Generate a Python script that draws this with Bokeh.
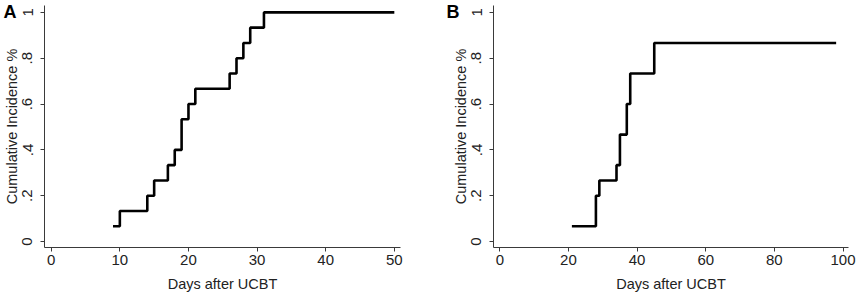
from bokeh.plotting import figure
from bokeh.layouts import row
from bokeh.models import Range1d, FixedTicker, Title
from bokeh.embed import file_html
from bokeh.resources import INLINE

# Panel A data
days_a = [9, 10, 14, 15, 17, 18, 19, 20, 21, 26, 27, 28, 29, 31, 50]
inc_a = [1/15, 2/15, 3/15, 4/15, 5/15, 6/15, 8/15, 9/15, 10/15, 11/15, 12/15, 13/15, 14/15, 1.0, 1.0]

# Panel B data
days_b = [21, 28, 29, 34, 35, 37, 38, 45, 98]
inc_b = [1/15, 3/15, 4/15, 5/15, 7/15, 9/15, 11/15, 13/15, 13/15]

y_ticks = [0, 0.2, 0.4, 0.6, 0.8, 1.0]
y_tick_labels = ["0", ".2", ".4", ".6", ".8", "1"]
x_ticks_a = [0, 10, 20, 30, 40, 50]
x_ticks_b = [0, 20, 40, 60, 80, 100]

FONT = "Liberation Sans"
AXIS_COL = "#3a3a3a"
TEXT_COL = "#222222"


def make_panel(days, inc, xticks, xr, width, left, right, letter):
    p = figure(width=width, height=294, output_backend="svg", toolbar_location=None,
               x_range=Range1d(*xr), y_range=Range1d(-0.026, 1.03),
               min_border_left=left, min_border_right=right,
               min_border_top=5, min_border_bottom=46)
    p.outline_line_color = None
    p.grid.visible = False
    p.step(days, inc, mode="after", line_width=2.6, line_color="black")

    for ax in (p.xaxis[0], p.yaxis[0]):
        ax.axis_line_color = AXIS_COL
        ax.axis_line_width = 1
        ax.major_tick_line_color = AXIS_COL
        ax.major_tick_out = 4
        ax.major_tick_in = 0
        ax.minor_tick_line_color = None
        ax.major_label_text_font = FONT
        ax.major_label_text_font_size = "15px"
        ax.major_label_text_color = TEXT_COL
        ax.axis_label_text_font = FONT
        ax.axis_label_text_font_size = "14.5px"
        ax.axis_label_text_font_style = "normal"
        ax.axis_label_text_color = TEXT_COL

    p.xaxis.ticker = FixedTicker(ticks=xticks)
    p.xaxis.axis_label = "Days after UCBT"
    p.xaxis.major_label_standoff = 3
    p.xaxis.axis_label_standoff = 8

    p.yaxis.ticker = FixedTicker(ticks=y_ticks)
    p.yaxis.major_label_overrides = {t: l for t, l in zip(y_ticks, y_tick_labels)}
    p.yaxis.major_label_orientation = "vertical"
    p.yaxis.axis_label = "Cumulative Incidence %"
    p.yaxis.major_label_standoff = 8
    p.yaxis.axis_label_standoff = 0

    p.add_layout(Title(text=letter, align="left", offset=-(left - 3),
                       vertical_align="bottom", standoff=-33,
                       text_font=FONT, text_font_style="bold", text_font_size="18px",
                       text_color="black"), "above")
    return p


pa = make_panel(days_a, inc_a, x_ticks_a, (-0.98, 50.9), 443, 44, 43, "A")
pb = make_panel(days_b, inc_b, x_ticks_b, (-1.84, 101.6), 415, 50, 10, "B")

layout = row(pa, pb, spacing=0)
open("out.html", "w").write(file_html(layout, INLINE))
